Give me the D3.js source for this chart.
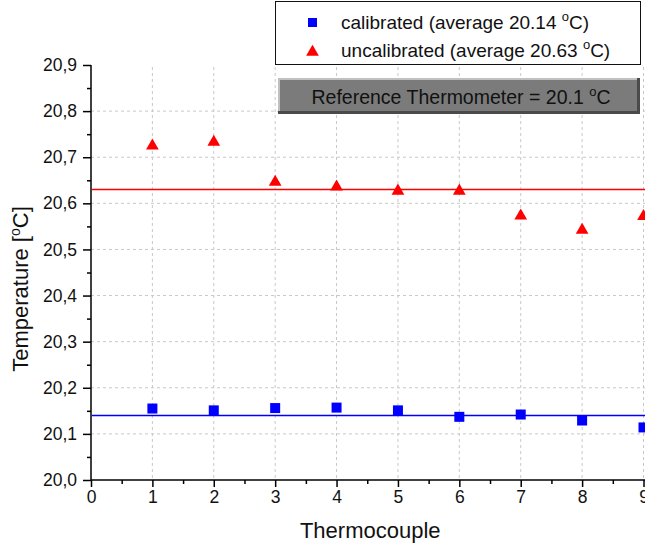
<!DOCTYPE html>
<html>
<head>
<meta charset="utf-8">
<script src="https://cdn.jsdelivr.net/npm/d3@7"></script>
<style>
  body { margin: 0; background: #fff; }
  text { font-family: "Liberation Sans", Arial, sans-serif; fill: #111; }
</style>
</head>
<body>
<div id="chart"></div>
<script>
// Thermocouple numbers
const thermocouples = [1, 2, 3, 4, 5, 6, 7, 8, 9];
// Calibrated readings (blue squares)
const calibrated = [20.155, 20.151, 20.156, 20.157, 20.151, 20.137, 20.142, 20.129, 20.114];
// Uncalibrated readings (red triangles)
const uncalibrated = [20.727, 20.735, 20.648, 20.638, 20.629, 20.629, 20.575, 20.544, 20.574];
const averages = [20.14, 20.63];
const xTicks = [0, 1, 2, 3, 4, 5, 6, 7, 8, 9];
const yTicks = [20.0, 20.1, 20.2, 20.3, 20.4, 20.5, 20.6, 20.7, 20.8, 20.9];
const legendNames = ["calibrated (average 20.14 ", "uncalibrated (average 20.63 "];
const referenceLabel = "Reference Thermometer = 20.1 ";

const width = 645, height = 547;
const margin = {left: 91, right: 1.5, top: 65, bottom: 67};

const svg = d3.select("#chart")
    .append("svg")
    .attr("width", width)
    .attr("height", height);

const x = d3.scaleLinear().domain([0, 9]).range([margin.left, width - margin.right]);
const y = d3.scaleLinear().domain([20.0, 20.9]).range([height - margin.bottom, margin.top]);

// grid
svg.append("g")
    .selectAll("line")
    .data(xTicks.slice(1))
    .enter().append("line")
    .attr("x1", d => x(d)).attr("x2", d => x(d))
    .attr("y1", y(20.9) + 2).attr("y2", y(20.0))
    .attr("stroke", "#c8c8c8").attr("stroke-dasharray", "3,3");

svg.append("g")
    .selectAll("line")
    .data(yTicks.slice(1, -1))
    .enter().append("line")
    .attr("x1", x(0)).attr("x2", width)
    .attr("y1", d => y(d)).attr("y2", d => y(d))
    .attr("stroke", "#c8c8c8").attr("stroke-dasharray", "3,3");

// axes
const xAxis = d3.axisBottom(x)
    .tickValues(xTicks)
    .tickFormat(d3.format("d"))
    .tickSize(7)
    .tickPadding(4);
const xg = svg.append("g")
    .attr("transform", "translate(0," + y(20.0) + ")")
    .call(xAxis);
xg.select(".domain").attr("stroke-width", 1.5).attr("d", "M" + x(0) + ",0H" + width);
xg.selectAll("text").style("font-size", "17.5px").attr("fill", "#111");
xg.selectAll("line").attr("stroke-width", 1.5);

const xMinor = d3.axisBottom(x)
    .tickValues(d3.range(0.5, 9, 1))
    .tickFormat("")
    .tickSize(4);
svg.append("g")
    .attr("transform", "translate(0," + y(20.0) + ")")
    .call(xMinor)
    .call(g => g.select(".domain").remove())
    .selectAll("line").attr("stroke-width", 1.5);

const yAxis = d3.axisLeft(y)
    .tickValues(yTicks)
    .tickFormat(d => d3.format(".1f")(d).replace(".", ","))
    .tickSize(8)
    .tickPadding(6);
const yg = svg.append("g")
    .attr("transform", "translate(" + x(0) + ",0)")
    .call(yAxis);
yg.select(".domain").attr("stroke-width", 1.5).attr("d", "M0," + y(20.9) + "V" + y(20.0));
yg.selectAll("text").style("font-size", "17.5px").attr("fill", "#111");
yg.selectAll("line").attr("stroke-width", 1.5);

const yMinor = d3.axisLeft(y)
    .tickValues(d3.range(20.05, 20.9, 0.1))
    .tickFormat("")
    .tickSize(4);
svg.append("g")
    .attr("transform", "translate(" + x(0) + ",0)")
    .call(yMinor)
    .call(g => g.select(".domain").remove())
    .selectAll("line").attr("stroke-width", 1.5);

// average lines
const colors = ["#0000ff", "#ff0000"];
svg.append("g")
    .selectAll("line")
    .data(averages)
    .enter().append("line")
    .attr("x1", x(0) + 1).attr("x2", width)
    .attr("y1", d => y(d)).attr("y2", d => y(d))
    .attr("stroke", (d, i) => colors[i]).attr("stroke-width", 1.5);

// markers
const pts = thermocouples.map((t, i) => ({t: t, c: calibrated[i], u: uncalibrated[i]}));

svg.append("g")
    .selectAll("rect")
    .data(pts)
    .enter().append("rect")
    .attr("x", d => x(d.t) - 5).attr("y", d => y(d.c) - 5)
    .attr("width", 10).attr("height", 10)
    .attr("fill", "#0000ff");

const tri = d3.symbol().type(d3.symbolTriangle).size(70);
svg.append("g")
    .selectAll("path")
    .data(pts)
    .enter().append("path")
    .attr("d", tri)
    .attr("transform", d => "translate(" + x(d.t) + "," + (y(d.u) + 1) + ")")
    .attr("fill", "#ff0000");

// axis titles
svg.append("text")
    .attr("x", (x(0) + x(9)) / 2 + 3)
    .attr("y", 538)
    .attr("text-anchor", "middle")
    .style("font-size", "22px")
    .text("Thermocouple");

const yt = svg.append("text")
    .attr("transform", "translate(28,289) rotate(-90)")
    .attr("text-anchor", "middle")
    .style("font-size", "22px");
yt.append("tspan").text("Temperature [");
yt.append("tspan").attr("dy", -8).style("font-size", "14px").text("o");
yt.append("tspan").attr("dy", 8).text("C]");

// legend
const legend = svg.append("g");
legend.append("rect")
    .attr("x", 275.5).attr("y", 1.5)
    .attr("width", 365).attr("height", 63)
    .attr("fill", "#fff").attr("stroke", "#111").attr("stroke-width", 1);

legend.append("rect")
    .attr("x", 308).attr("y", 18).attr("width", 9).attr("height", 9)
    .attr("fill", "#0000ff");
legend.append("path")
    .attr("d", tri)
    .attr("transform", "translate(312.5,52)")
    .attr("fill", "#ff0000");

legendNames.forEach(function (name, i) {
    const t = legend.append("text")
        .attr("x", 341).attr("y", 29 + i * 28)
        .style("font-size", "19px");
    t.append("tspan").text(name);
    t.append("tspan").attr("dy", -8).style("font-size", "13px").text("o");
    t.append("tspan").attr("dy", 8).text("C)");
});

// reference box
const ref = svg.append("g");
ref.append("rect")
    .attr("x", 278).attr("y", 78).attr("width", 362).attr("height", 36)
    .attr("fill", "#4a4a4a");
ref.append("rect")
    .attr("x", 278).attr("y", 78).attr("width", 359).attr("height", 33)
    .attr("fill", "#c0c0c0");
ref.append("rect")
    .attr("x", 280).attr("y", 80).attr("width", 357).attr("height", 31)
    .attr("fill", "#7b7b7b");
const rt = ref.append("text")
    .attr("x", 461).attr("y", 104)
    .attr("text-anchor", "middle")
    .style("font-size", "19.5px");
rt.append("tspan").text(referenceLabel);
rt.append("tspan").attr("dy", -8).style("font-size", "13px").text("o");
rt.append("tspan").attr("dy", 8).text("C");
</script>
</body>
</html>
